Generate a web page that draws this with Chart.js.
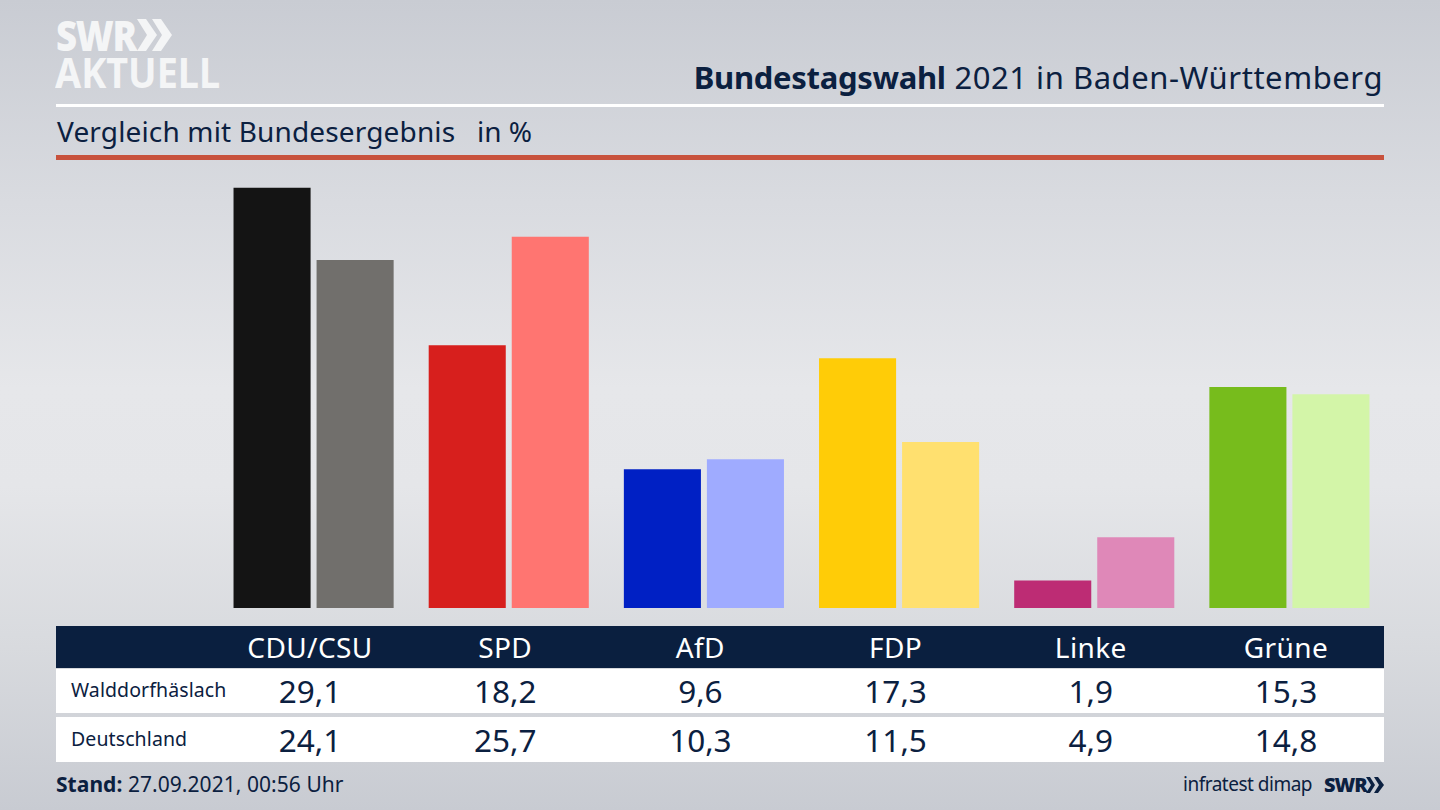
<!DOCTYPE html>
<html lang="de">
<head>
<meta charset="utf-8">
<title>Bundestagswahl 2021 in Baden-Württemberg</title>
<script src="https://cdn.jsdelivr.net/npm/chart.js@4/dist/chart.umd.min.js"></script>
<style>
  html, body { margin: 0; padding: 0; }
  body {
    width: 1440px; height: 810px; overflow: hidden; position: relative;
    background: linear-gradient(180deg, #c9ccd3 0%, #d9dbe0 25%, #e6e7ea 48%, #e5e6e9 60%, #d8dade 80%, #c8cbd2 100%);
    font-family: "Noto Sans", sans-serif; color: #0b2040;
  }
  .abs { position: absolute; white-space: nowrap; }
  #chartBox { position: absolute; left: 215.5px; top: 174px; width: 1171px; height: 434px; }
  #title { right: 57px; top: 55px; font-size: 31px; line-height: 44px; letter-spacing: 0.55px; }
  #title b { letter-spacing: -0.3px; }
  #subtitle { left: 57px; top: 111px; font-size: 28px; line-height: 40px; letter-spacing: 0.15px; }
  #unit { left: 477px; top: 111px; font-size: 28px; line-height: 40px; }
  .rule { position: absolute; left: 56px; width: 1328px; }
  .band { position: absolute; left: 56px; width: 1328px; }
  .cell { position: absolute; width: 190px; text-align: center; }
  .head { color: #fff; font-size: 28px; line-height: 42px; top: 626px; letter-spacing: 0.4px; }
  .val { font-size: 31.5px; line-height: 44px; }
  .rowname { position: absolute; left: 71px; font-size: 19.5px; line-height: 44px; letter-spacing: 0.1px; }
  #stand { left: 56px; top: 769px; font-size: 21px; line-height: 30px; letter-spacing: 0.05px; }
  #logo1 { left: 56px; top: 5px; font-size: 43px; line-height: 60px; font-weight: 800; color: #f4f5f6; letter-spacing: -1.5px; font-family: "Open Sans", sans-serif; transform: scaleX(0.85); transform-origin: left; }
  #logo2 { left: 55px; top: 42px; font-size: 42px; line-height: 60px; font-weight: 700; color: #f4f5f6; transform: scaleX(0.9); transform-origin: left; }
  #credit { right: 128px; top: 770px; font-size: 19px; line-height: 28px; letter-spacing: -0.5px; }
  #swr { left: 1324px; top: 771px; font-size: 20px; line-height: 28px; font-weight: 800; letter-spacing: -1px; font-family: "Open Sans", sans-serif; }
</style>
</head>
<body>
<div class="abs" id="logo1">SWR</div>
<svg class="abs" style="left:137px;top:18px" width="36" height="34"><path d="M0 1h9l11 16-11 16H0l10-16zM15 1h9l11 16-11 16h-9l10-16z" fill="#f4f5f6"/></svg>
<div class="abs" id="logo2">AKTUELL</div>
<div class="abs" id="title"><b>Bundestagswahl</b> 2021 in Baden-Württemberg</div>
<div class="rule" style="top:104px;height:3px;background:#fff"></div>
<div class="abs" id="subtitle">Vergleich mit Bundesergebnis</div>
<div class="abs" id="unit">in %</div>
<div class="rule" style="top:155px;height:5px;background:#c8523d"></div>
<div id="chartBox"><canvas id="bars"></canvas></div>
<div class="band" style="top:626px;height:42px;background:#0a1f3f"></div>
<div class="band" style="top:669px;height:44px;background:#fff"></div>
<div class="band" style="top:717px;height:45px;background:#fff"></div>
<div id="table"></div>
<div class="abs" id="stand"><b>Stand:</b> 27.09.2021, 00:56 Uhr</div>
<div class="abs" id="credit">infratest dimap</div>
<div class="abs" id="swr">SWR</div>
<svg class="abs" style="left:1366px;top:777px" width="18" height="16"><path d="M0 0h4l5 8-5 8H0l5-8zM8 0h4l6 8-6 8H8l5-8z" fill="#0b2040"/></svg>
<script>
const parties = ['CDU/CSU', 'SPD', 'AfD', 'FDP', 'Linke', 'Grüne'];
const walddorf = [29.1, 18.2, 9.6, 17.3, 1.9, 15.3];
const deutschland = [24.1, 25.7, 10.3, 11.5, 4.9, 14.8];
const rowNames = ['Walddorfhäslach', 'Deutschland'];
const darkColors = ['#141414', '#d71f1d', '#0020c4', '#ffcc07', '#bd2c74', '#77bc1c'];
const lightColors = ['#716f6c', '#ff7571', '#9fabff', '#ffe06f', '#df88b8', '#d3f5a8'];

Chart.defaults.animation = false;

new Chart(document.getElementById('bars'), {
  type: 'bar',
  data: {
    labels: parties,
    datasets: [
      { label: rowNames[0], data: walddorf, backgroundColor: darkColors },
      { label: rowNames[1], data: deutschland, backgroundColor: lightColors }
    ]
  },
  options: {
    responsive: true,
    maintainAspectRatio: false,
    categoryPercentage: 0.851,
    barPercentage: 0.928,
    layout: { padding: 0 },
    plugins: { legend: { display: false }, tooltip: { enabled: false } },
    scales: {
      x: { display: false },
      y: { display: false, min: 0, max: 30.05 }
    }
  }
});

// table under the bars, columns sit a little left of the bar groups
const table = document.getElementById('table');
function addCell(cls, text, center, top) {
  const el = document.createElement('div');
  el.className = 'cell ' + cls;
  el.textContent = text;
  el.style.left = (center - 95) + 'px';
  if (top) el.style.top = top + 'px';
  table.appendChild(el);
}
parties.forEach((p, i) => {
  const center = 310 + i * 195.2;
  addCell('head', p, center);
  addCell('val', walddorf[i].toFixed(1).replace('.', ','), center, 669);
  addCell('val', deutschland[i].toFixed(1).replace('.', ','), center, 718);
});
rowNames.forEach((name, i) => {
  const el = document.createElement('div');
  el.className = 'rowname';
  el.textContent = name;
  el.style.top = (i === 0 ? 668 : 717) + 'px';
  table.appendChild(el);
});
</script>
</body>
</html>
